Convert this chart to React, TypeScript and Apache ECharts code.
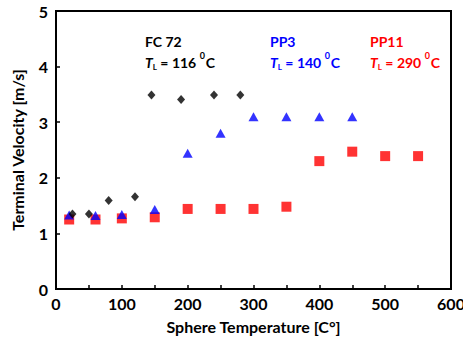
import React, { useEffect, useRef } from "react";
import * as echarts from "echarts";

const fcX = [25, 50, 80, 120, 145, 190, 240, 280];
const fcY = [1.35, 1.35, 1.59, 1.66, 3.49, 3.41, 3.49, 3.49];
const pp3X = [20, 60, 100, 150, 200, 250, 300, 350, 400, 450];
const pp3Y = [1.33, 1.32, 1.34, 1.43, 2.44, 2.8, 3.1, 3.1, 3.1, 3.1];
const pp11X = [20, 60, 100, 150, 200, 250, 300, 350, 400, 450, 500, 550];
const pp11Y = [1.25, 1.25, 1.27, 1.29, 1.44, 1.44, 1.44, 1.48, 2.3, 2.47, 2.39, 2.39];

const labels = [
  { name: "FC 72", tl: "116", color: "#000000" },
  { name: "PP3", tl: "140", color: "#0000FF" },
  { name: "PP11", tl: "290", color: "#FF0000" },
];

const FONT = "Lato, 'Open Sans', sans-serif";

function zip(xs: number[], ys: number[]) {
  return xs.map((x, i) => [x, ys[i]]);
}

export default function App() {
  const ref = useRef<HTMLDivElement>(null);
  useEffect(() => {
    if (!ref.current) return;
    const chart = echarts.init(ref.current, null, { renderer: "svg" });
    const labelPos = [145, 270, 370];
    const graphic: any[] = [];
    labels.forEach((l, i) => {
      graphic.push({
        type: "text",
        left: labelPos[i],
        top: 34,
        style: {
          text: l.name,
          fill: l.color,
          font: `bold 14px ${FONT}`,
        },
      });
      graphic.push({
        type: "text",
        left: labelPos[i],
        top: 51,
        style: {
          text: `{i|T}{sub|L}{n| = ${l.tl} }{sup|0}{n|C}`,
          fill: l.color,
          rich: {
            i: { fontStyle: "italic", fontWeight: "bold", fontSize: 14, fontFamily: FONT, fill: l.color, verticalAlign: "bottom", lineHeight: 18 },
            sub: { fontWeight: "bold", fontSize: 8, fontFamily: FONT, fill: l.color, verticalAlign: "bottom", lineHeight: 18, padding: [0, 0, -2, 0] },
            n: { fontWeight: "bold", fontSize: 14, fontFamily: FONT, fill: l.color, verticalAlign: "bottom", lineHeight: 18 },
            sup: { fontWeight: "bold", fontSize: 9, fontFamily: FONT, fill: l.color, verticalAlign: "top", lineHeight: 18, padding: [0, 1, 0, 0] },
          },
        },
      });
    });
    chart.setOption({
      animation: false,
      grid: {
        left: 56, right: 12, top: 11, bottom: 53,
        show: true, borderColor: "#000", borderWidth: 2,
        containLabel: false, outerBoundsMode: "none",
      },
      xAxis: {
        type: "value",
        min: 0,
        max: 600,
        interval: 100,
        name: "Sphere Temperature [C°]",
        nameLocation: "middle",
        nameGap: 29,
        nameTextStyle: { fontFamily: FONT, fontWeight: "bold", fontSize: 16, color: "#000" },
        axisLine: { lineStyle: { color: "#000", width: 2 } },
        axisTick: { inside: true, length: 4, lineStyle: { color: "#000", width: 1.5 } },
        minorTick: { show: true, splitNumber: 2, length: 4, lineStyle: { color: "#000", width: 1.5 } },
        axisLabel: { fontFamily: FONT, fontWeight: "bold", fontSize: 16, color: "#000", margin: 6 },
        splitLine: { show: false },
      },
      yAxis: {
        type: "value",
        min: 0,
        max: 5,
        interval: 1,
        name: "Terminal Velocity [m/s]",
        nameLocation: "middle",
        nameGap: 31,
        nameTextStyle: { fontFamily: FONT, fontWeight: "bold", fontSize: 16, color: "#000" },
        axisLine: { lineStyle: { color: "#000", width: 2 } },
        axisTick: { inside: true, length: 4, lineStyle: { color: "#000", width: 1.5 } },
        axisLabel: { fontFamily: FONT, fontWeight: "bold", fontSize: 16, color: "#000", margin: 8 },
        splitLine: { show: false },
      },
      series: [
        {
          type: "scatter",
          name: "PP11",
          data: zip(pp11X, pp11Y),
          symbol: "rect",
          symbolSize: 10,
          itemStyle: { color: "#FF0000" },
          z: 1,
        },
        {
          type: "scatter",
          name: "PP3",
          data: zip(pp3X, pp3Y),
          symbol: "triangle",
          symbolSize: [10, 9],
          itemStyle: { color: "#0000FF" },
          z: 2,
        },
        {
          type: "scatter",
          name: "FC 72",
          data: zip(fcX, fcY),
          symbol: "diamond",
          symbolSize: [8, 9],
          itemStyle: { color: "#000000" },
          z: 3,
        },
      ],
      graphic,
    });
    return () => chart.dispose();
  }, []);
  return <div ref={ref} style={{ width: 463, height: 342, position: "absolute", left: 0, top: 0 }} />;
}
